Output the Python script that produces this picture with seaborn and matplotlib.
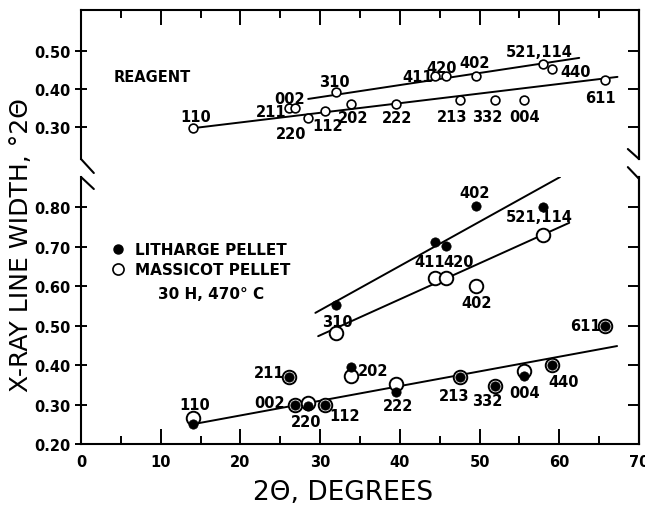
import numpy as np
import pandas as pd
import matplotlib
matplotlib.use("Agg")
import matplotlib.pyplot as plt
import seaborn as sns
from matplotlib.lines import Line2D
from matplotlib.ticker import MultipleLocator, FixedLocator

# ---------------- data ----------------
hkl = ['110', '211', '002', '220', '112', '310', '202', '222', '411', '420',
       '213', '402', '332', '004', '521,114', '440', '611']
two_theta = [14.0, 26.1, 26.9, 28.5, 30.6, 32.0, 33.9, 39.5, 44.4, 45.8,
             47.6, 49.6, 51.9, 55.6, 57.9, 59.1, 65.7]
width_reagent = [0.297, 0.350, 0.350, 0.325, 0.343, 0.392, 0.360, 0.360, 0.434, 0.434,
                 0.371, 0.434, 0.371, 0.371, 0.466, 0.453, 0.424]
width_litharge = [0.250, 0.370, 0.300, 0.295, 0.300, 0.552, 0.395, 0.332, 0.711, 0.701,
                  0.370, 0.803, 0.347, 0.372, 0.800, 0.400, 0.500]
width_massicot = [0.266, 0.370, 0.300, 0.305, 0.300, 0.481, 0.372, 0.352, 0.620, 0.620,
                  0.370, 0.600, 0.347, 0.385, 0.729, 0.400, 0.500]

# fitted lines (end points)
reagent_low_x, reagent_low_y = [14.0, 67.3], [0.297, 0.432]
reagent_up_x, reagent_up_y = [28.5, 62.5], [0.374, 0.482]
litharge_x, litharge_y = [29.4, 60.1], [0.532, 0.876]
massicot_x, massicot_y = [29.75, 61.25], [0.473, 0.760]
pellet_low_x, pellet_low_y = [14.0, 67.25], [0.250, 0.448]

x_ticks = [0, 10, 20, 30, 40, 50, 60, 70]
y_ticks_top = [0.30, 0.40, 0.50]
y_ticks_bottom = [0.20, 0.30, 0.40, 0.50, 0.60, 0.70, 0.80]

# label placement (text positions, data coords)
top_labels = [('110', 14.4, 0.329), ('211', 23.8, 0.340), ('002', 26.2, 0.376),
              ('220', 26.4, 0.282), ('112', 30.9, 0.305), ('202', 34.2, 0.326),
              ('310', 31.8, 0.421), ('222', 39.6, 0.326), ('213', 46.6, 0.329),
              ('332', 51.0, 0.329), ('004', 55.6, 0.329), ('411', 42.2, 0.434),
              ('420', 45.3, 0.458), ('402', 49.4, 0.471), ('521,114', 57.5, 0.500),
              ('440', 62.0, 0.447), ('611', 65.1, 0.379)]
bottom_labels = [('110', 14.2, 0.301), ('211', 23.6, 0.382), ('002', 23.6, 0.306),
                 ('220', 28.3, 0.257), ('112', 33.1, 0.271), ('202', 36.7, 0.385),
                 ('222', 39.75, 0.297), ('213', 46.8, 0.324), ('332', 51.0, 0.309),
                 ('004', 55.6, 0.331), ('440', 60.5, 0.357), ('310', 32.1, 0.511),
                 ('402', 49.4, 0.838), ('521,114', 57.5, 0.775), ('411', 43.8, 0.661),
                 ('420', 47.4, 0.661), ('402', 49.6, 0.559), ('611', 63.25, 0.499)]

df = pd.DataFrame({'hkl': hkl, 'two_theta': two_theta, 'reagent': width_reagent,
                   'litharge': width_litharge, 'massicot': width_massicot})

# ---------------- style ----------------
sns.set_style('ticks')
plt.rcParams['font.family'] = ['DejaVu Sans']
plt.rcParams.update({'axes.linewidth': 1.5, 'text.color': 'black',
                     'axes.labelcolor': 'black', 'xtick.color': 'black',
                     'ytick.color': 'black', 'axes.edgecolor': 'black'})

W, H = 645, 510
fig = plt.figure(figsize=(W / 100, H / 100), dpi=100)
L, R = 81, 639
ax_top = fig.add_axes([L / W, 1 - 160 / H, (R - L) / W, (160 - 11) / H])
ax_bot = fig.add_axes([L / W, 1 - 445 / H, (R - L) / W, (445 - 178) / H])

lab_font = dict(fontsize=10.5, fontweight='bold', ha='center', va='center', color='black')
line_kw = dict(color='black', linewidth=1.4, estimator=None, sort=False, legend=False)

# ---- top panel: reagent ----
sns.lineplot(x=reagent_low_x, y=reagent_low_y, ax=ax_top, **line_kw)
sns.lineplot(x=reagent_up_x, y=reagent_up_y, ax=ax_top, **line_kw)
sns.scatterplot(data=df, x='two_theta', y='reagent', ax=ax_top, marker='o', s=40,
                facecolor='white', edgecolor='black', linewidth=1.2, zorder=3, legend=False)
for t, x, y in top_labels:
    ax_top.text(x, y, t, **lab_font)
ax_top.text(4.1, 0.434, 'REAGENT', fontsize=10.5, fontweight='bold', ha='left',
            va='center', color='black')

# ---- bottom panel: pellets ----
sns.lineplot(x=litharge_x, y=litharge_y, ax=ax_bot, **line_kw)
sns.lineplot(x=massicot_x, y=massicot_y, ax=ax_bot, **line_kw)
sns.lineplot(x=pellet_low_x, y=pellet_low_y, ax=ax_bot, **line_kw)
sns.scatterplot(data=df, x='two_theta', y='massicot', ax=ax_bot, marker='o', s=95,
                facecolor='white', edgecolor='black', linewidth=1.4, zorder=3, legend=False)
sns.scatterplot(data=df, x='two_theta', y='litharge', ax=ax_bot, marker='o', s=45,
                color='black', edgecolor='black', linewidth=0.5, zorder=4, legend=False)
for t, x, y in bottom_labels:
    ax_bot.text(x, y, t, **lab_font)

handles = [Line2D([], [], marker='o', ls='none', color='black', markersize=6.5),
           Line2D([], [], marker='o', ls='none', markerfacecolor='white',
                  markeredgecolor='black', markersize=8, markeredgewidth=1.2)]
leg = ax_bot.legend(handles, ['LITHARGE PELLET', 'MASSICOT PELLET'], loc='upper left',
                    bbox_to_anchor=(0.044, 0.78), frameon=False, handlelength=0.8,
                    handletextpad=0.75, labelspacing=0.35, borderaxespad=0,
                    prop=dict(size=11, weight='bold'))
for txt in leg.get_texts():
    txt.set_color('black')
ax_bot.text(16.3, 0.58, '30 H, 470° C', fontsize=11, fontweight='bold', ha='center',
            va='center', color='black')

# ---- axes formatting ----
for ax, yt in ((ax_top, y_ticks_top), (ax_bot, y_ticks_bottom)):
    ax.set_xlim(0, 70)
    ax.set_xlabel('')
    ax.set_ylabel('')
    ax.xaxis.set_major_locator(FixedLocator(x_ticks))
    ax.xaxis.set_minor_locator(MultipleLocator(5))
    ax.tick_params(axis='x', which='major', direction='in', length=11, width=1.4)
    ax.tick_params(axis='x', which='minor', direction='in', length=6, width=1.4)
    ax.set_yticks(yt)
    ax.set_yticklabels([f'{v:.2f}' for v in yt], fontsize=10.5, fontweight='bold')
    ax.tick_params(axis='y', which='major', direction='inout', length=8, width=1.4,
                   right=False, labelright=False)
    sec = ax.secondary_yaxis('right')
    sec.set_yticks(yt)
    sec.tick_params(axis='y', direction='in', length=8, width=1.4, labelright=False)
    sec.spines['right'].set_linewidth(1.5)

ax_top.set_ylim(0.216, 0.608)
ax_top.spines['bottom'].set_visible(False)
ax_top.tick_params(axis='x', which='both', bottom=False, top=True, labelbottom=False)

ax_bot.set_ylim(0.20, 0.876)
ax_bot.set_xticks(x_ticks)
ax_bot.set_xticklabels([str(v) for v in x_ticks], fontsize=10.5, fontweight='bold')
ax_bot.spines['top'].set_visible(False)
ax_bot.tick_params(axis='x', which='both', top=False, pad=7)

# break marks
bk = dict(color='black', linewidth=1.5, clip_on=False)
ax_top.add_line(Line2D([0, 0.023], [0, -0.094], transform=ax_top.transAxes, **bk))
ax_top.add_line(Line2D([1 - 0.02, 1], [0.067, 0], transform=ax_top.transAxes, **bk))
ax_bot.add_line(Line2D([0, 0.023], [1, 1 - 0.045], transform=ax_bot.transAxes, **bk))
ax_bot.add_line(Line2D([1 - 0.02, 1], [1.037, 0.993], transform=ax_bot.transAxes, **bk))

fig.text(21 / W, 1 - 245 / H, 'X-RAY LINE WIDTH, °2Θ', rotation=90, ha='center',
         va='center', fontsize=18, color='black')
fig.text(343 / W, 1 - 493 / H, '2Θ, DEGREES', ha='center', va='center', fontsize=19,
         color='black')

fig.savefig('out.png', dpi=100)
